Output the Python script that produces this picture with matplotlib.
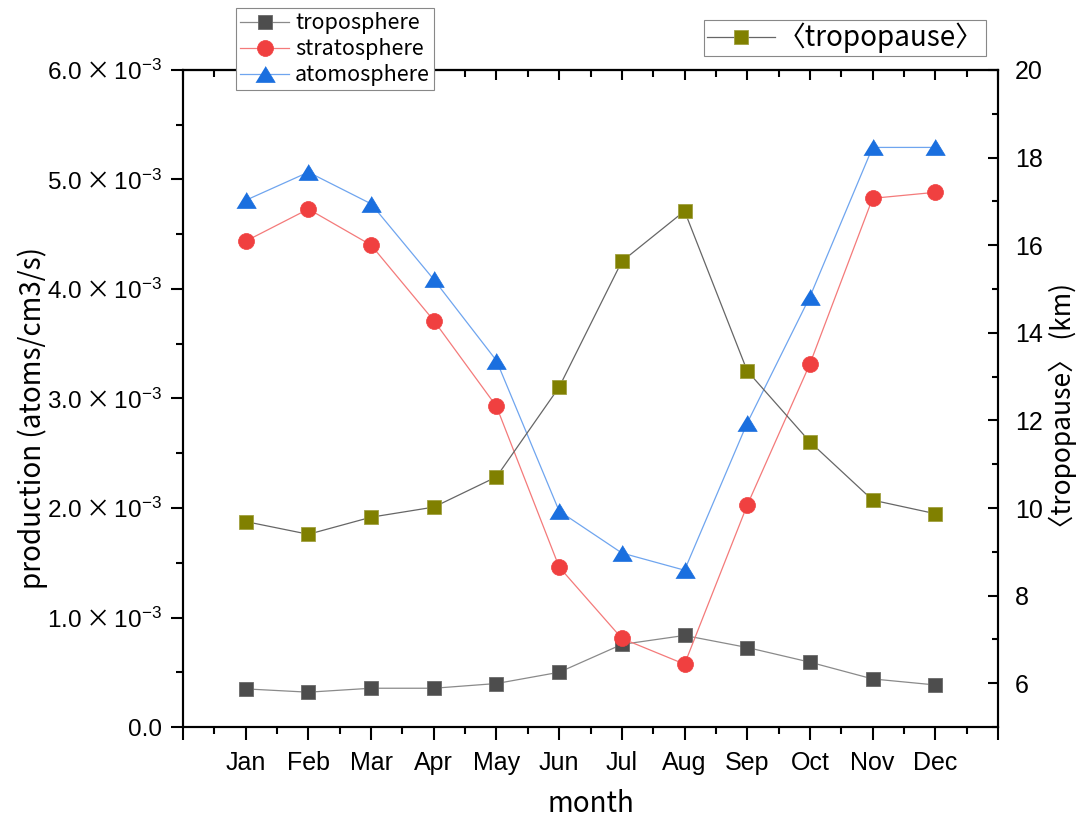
import numpy as np
import matplotlib
matplotlib.use("Agg")
import matplotlib.pyplot as plt
from matplotlib.ticker import FixedLocator, MultipleLocator, FuncFormatter

# monthly production rates (atoms/cm3/s) and mean tropopause height (km)
months = ["Jan", "Feb", "Mar", "Apr", "May", "Jun",
          "Jul", "Aug", "Sep", "Oct", "Nov", "Dec"]
troposphere = [0.348e-3, 0.318e-3, 0.354e-3, 0.354e-3, 0.397e-3, 0.50e-3,
               0.754e-3, 0.836e-3, 0.726e-3, 0.592e-3, 0.439e-3, 0.384e-3]
stratosphere = [4.437e-3, 4.730e-3, 4.401e-3, 3.712e-3, 2.928e-3, 1.461e-3,
                0.809e-3, 0.574e-3, 2.026e-3, 3.316e-3, 4.828e-3, 4.883e-3]
atomosphere = [4.81e-3, 5.067e-3, 4.778e-3, 4.087e-3, 3.346e-3, 1.972e-3,
               1.589e-3, 1.432e-3, 2.776e-3, 3.929e-3, 5.293e-3, 5.293e-3]
tropopause = [9.69, 9.40, 9.79, 10.02, 10.71, 12.76,
              15.63, 16.78, 13.13, 11.51, 10.18, 9.87]

plt.rcParams['font.family'] = ['Liberation Sans', 'DejaVu Sans']
plt.rcParams['mathtext.fontset'] = 'custom'
plt.rcParams['mathtext.rm'] = 'Liberation Sans'
plt.rcParams['mathtext.it'] = 'Liberation Sans:italic'
plt.rcParams['mathtext.sf'] = 'Noto Sans CJK JP'
cjk = ['Noto Sans CJK JP', 'DejaVu Sans']

x = np.arange(1, 13)

fig = plt.figure(figsize=(10.83, 8.19), dpi=100)
ax1 = fig.add_axes([183/1083, 1-727/819, (998-183)/1083, (727-70)/819])
ax2 = ax1.twinx()

tri = [(-1, -0.82), (1, -0.82), (0, 0.82)]
h1, = ax1.plot(x, troposphere, color='#8a8a8a', lw=0.9, marker='s', ms=10,
               mfc='#4d4d4d', mec='#6a6a6a', mew=0.6, label='troposphere')
h2, = ax1.plot(x, stratosphere, color='#f47a7a', lw=0.9, marker='o', ms=11.5,
               mfc='#f04040', mec='#f04040', mew=0.5, label='stratosphere')
h3, = ax1.plot(x, atomosphere, color='#6fa5ef', lw=0.9, marker=tri, ms=14,
               mfc='#1a6fdf', mec='#1a6fdf', mew=0.5, label='atomosphere')
h4, = ax2.plot(x, tropopause, color='#666666', lw=0.9, marker='s', ms=10.5,
               mfc='#808000', mec='#a0a040', mew=0.6, label='〈tropopause〉')

ax1.set_xlim(0, 13)
ax1.set_ylim(0, 6e-3)
ax2.set_ylim(5, 20)

ax1.xaxis.set_major_locator(FixedLocator(np.arange(0, 14)))
ax1.xaxis.set_minor_locator(FixedLocator(np.arange(0.5, 13, 1)))
ax1.xaxis.set_major_formatter(FuncFormatter(
    lambda v, p: months[int(round(v)) - 1] if 1 <= round(v) <= 12 else ''))

def sci(v, pos):
    if abs(v) < 1e-12:
        return '0.0'
    return r'$\mathregular{%.1f}\:\mathsf{\times}\:\mathregular{10^{-3}}$' % (v / 1e-3)

ax1.yaxis.set_major_locator(MultipleLocator(1e-3))
ax1.yaxis.set_minor_locator(MultipleLocator(0.5e-3))
ax1.yaxis.set_major_formatter(FuncFormatter(sci))
ax2.yaxis.set_major_locator(MultipleLocator(2))
ax2.yaxis.set_minor_locator(MultipleLocator(1))
ax2.yaxis.set_major_formatter(FuncFormatter(
    lambda v, p: '%d' % v if v >= 6 else ''))

for sp in ax1.spines.values():
    sp.set_linewidth(1.5)
for sp in ax2.spines.values():
    sp.set_linewidth(1.5)

ax1.tick_params(axis='x', which='major', direction='out', length=9, width=1.5,
                labelsize=18, pad=8)
ax1.tick_params(axis='x', which='minor', direction='out', length=5, width=1.5)
ax1.tick_params(axis='y', which='major', direction='out', length=9, width=1.5,
                labelsize=17.5, pad=6)
ax1.tick_params(axis='y', which='minor', direction='out', length=5, width=1.5)
ax2.tick_params(axis='y', which='major', direction='in', length=7, width=1.5,
                labelsize=18, pad=12)
ax2.tick_params(axis='y', which='minor', direction='in', length=4, width=1.5)

# top axis ticks point inward
top = ax1.secondary_xaxis('top')
top.set_xticks(np.arange(0, 14))
top.xaxis.set_minor_locator(FixedLocator(np.arange(0.5, 13, 1)))
top.tick_params(which='major', direction='in', length=7, width=1.5, labeltop=False)
top.tick_params(which='minor', direction='in', length=5, width=1.5)
top.spines['top'].set_linewidth(1.5)

ax1.set_xlabel('month', fontsize=20, family=cjk)
ax1.xaxis.set_label_coords(0.5, (727-789)/657)
ax1.set_ylabel('production (atoms/cm3/s)', fontsize=20, family=cjk)
ax1.yaxis.set_label_coords((48-183)/815, 0.47)
ax2.set_ylabel('〈tropopause〉 (km)', fontsize=19, family=cjk)
ax2.yaxis.set_label_coords((1049-183)/815, 0.48)

leg1 = fig.legend(handles=[h1, h2, h3], loc='upper left',
                  bbox_to_anchor=(236/1083, 1-8/819), borderaxespad=0,
                  prop={'family': cjk, 'size': 15.5}, fancybox=False,
                  edgecolor='#888888', framealpha=1, handlelength=2.25,
                  handletextpad=0.3, labelspacing=0.18, borderpad=0.2)
leg1.get_frame().set_linewidth(0.8)
leg2 = fig.legend(handles=[h4], loc='upper left',
                  bbox_to_anchor=(704/1083, 1-20/819), borderaxespad=0,
                  prop={'family': cjk, 'size': 20}, fancybox=False,
                  edgecolor='#888888', framealpha=1, handlelength=2.45,
                  handletextpad=0.1, borderpad=0.1)
leg2.get_frame().set_linewidth(0.8)

fig.savefig('out.png', dpi=100)
